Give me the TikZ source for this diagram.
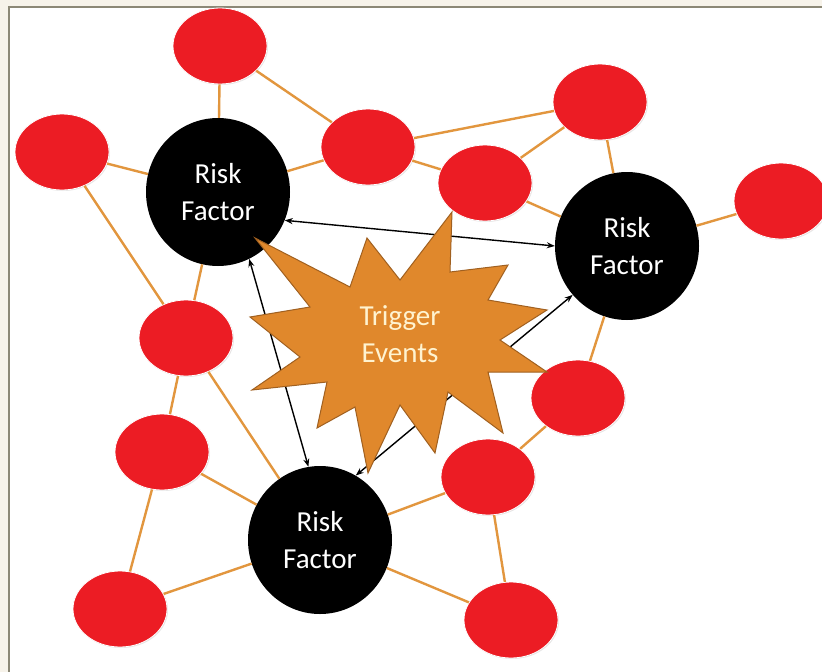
\documentclass[tikz,border=0pt]{standalone}
\usepackage{fontspec}
\setmainfont{Carlito}
\usetikzlibrary{shapes.geometric,arrows.meta,shadows}
\definecolor{riskred}{RGB}{236,28,36}
\definecolor{linkorange}{RGB}{226,150,62}
\definecolor{burst}{RGB}{224,136,44}
\definecolor{burstedge}{RGB}{160,96,32}
\definecolor{cream}{RGB}{255,243,208}
\definecolor{framegray}{RGB}{140,136,118}
\definecolor{paper}{RGB}{247,243,234}

\begin{document}
\begin{tikzpicture}[x=1pt,y=-1pt,font=\fontsize{29}{37}\selectfont,
	dot/.style={ellipse,fill=riskred,draw=white,line width=0.8pt,minimum width=94pt,minimum height=76pt,inner sep=0pt,
		drop shadow={opacity=0.2,shadow xshift=1pt,shadow yshift=-1pt}},
	factor/.style={ellipse,fill=black,minimum width=144pt,minimum height=148pt,inner sep=0pt,text=white,align=center},
	link/.style={linkorange,line width=2.4pt},
	tie/.style={{Stealth[length=8pt,width=6pt]}-{Stealth[length=8pt,width=6pt]},line width=1.4pt}]
	\useasboundingbox (0,0) rectangle (822,672);
	\fill[paper] (0,0) rectangle (822,672);
	\fill[white] (9,7) rectangle (822,672);
	\draw[framegray,line width=2pt] (9,672) -- (9,7) -- (822,7);
	
	\node[factor] (rfa) at (218,192) {Risk\\Factor};
	\node[factor] (rfb) at (627,246) {Risk\\Factor};
	\node[factor] (rfc) at (320,540) {Risk\\Factor};
	
	\node[dot] (d1) at (220,46) {};
	\node[dot] (d2) at (62,152) {};
	\node[dot] (d3) at (368,147) {};
	\node[dot] (d4) at (485,183) {};
	\node[dot] (d5) at (600,102) {};
	\node[dot] (d6) at (781,201) {};
	\node[dot] (d7) at (186,338) {};
	\node[dot] (d8) at (578,398) {};
	\node[dot] (d9) at (162,452) {};
	\node[dot] (d10) at (488,477) {};
	\node[dot] (d11) at (120,609) {};
	\node[dot] (d12) at (511,620) {};
	
	\draw[link] (d1) -- (rfa);
	\draw[link] (d1) -- (d3);
	\draw[link] (d2) -- (rfa);
	\draw[link] (d2) -- (d7);
	\draw[link] (rfa) -- (d3);
	\draw[link] (d3) -- (d5);
	\draw[link] (d3) -- (d4);
	\draw[link] (d4) -- (d5);
	\draw[link] (d5) -- (rfb);
	\draw[link] (d4) -- (rfb);
	\draw[link] (rfb) -- (d6);
	\draw[link] (rfa) -- (d7);
	\draw[link] (d7) -- (d9);
	\draw[link] (d7) -- (rfc);
	\draw[link] (d9) -- (rfc);
	\draw[link] (d9) -- (d11);
	\draw[link] (d11) -- (rfc);
	\draw[link] (rfc) -- (d10);
	\draw[link] (rfc) -- (d12);
	\draw[link] (d10) -- (d12);
	\draw[link] (d10) -- (d8);
	\draw[link] (d8) -- (rfb);
	
	\draw[tie] (rfa.-23) -- (rfb.180);
	\draw[tie] (rfa.-65) -- (rfc.99);
	\draw[tie] (rfc.61) -- (rfb.222);
	
	\filldraw[fill=burst,draw=burstedge,line width=1pt] (255,238) -- (350,287) -- (367,238) -- (400,280)
		-- (452,212) -- (450,272) -- (508,265) -- (488,300) -- (547,310) -- (500,340)
		-- (547,372) -- (488,372) -- (503,433) -- (448,392) -- (435,453) -- (400,405)
		-- (368,473) -- (355,407) -- (317,428) -- (327,382) -- (252,390) -- (300,357)
		-- (250,317) -- (310,307) -- cycle;
	\node[text=cream,align=center] (trigger) at (400,334) {Trigger\\Events};
\end{tikzpicture}
\end{document}
